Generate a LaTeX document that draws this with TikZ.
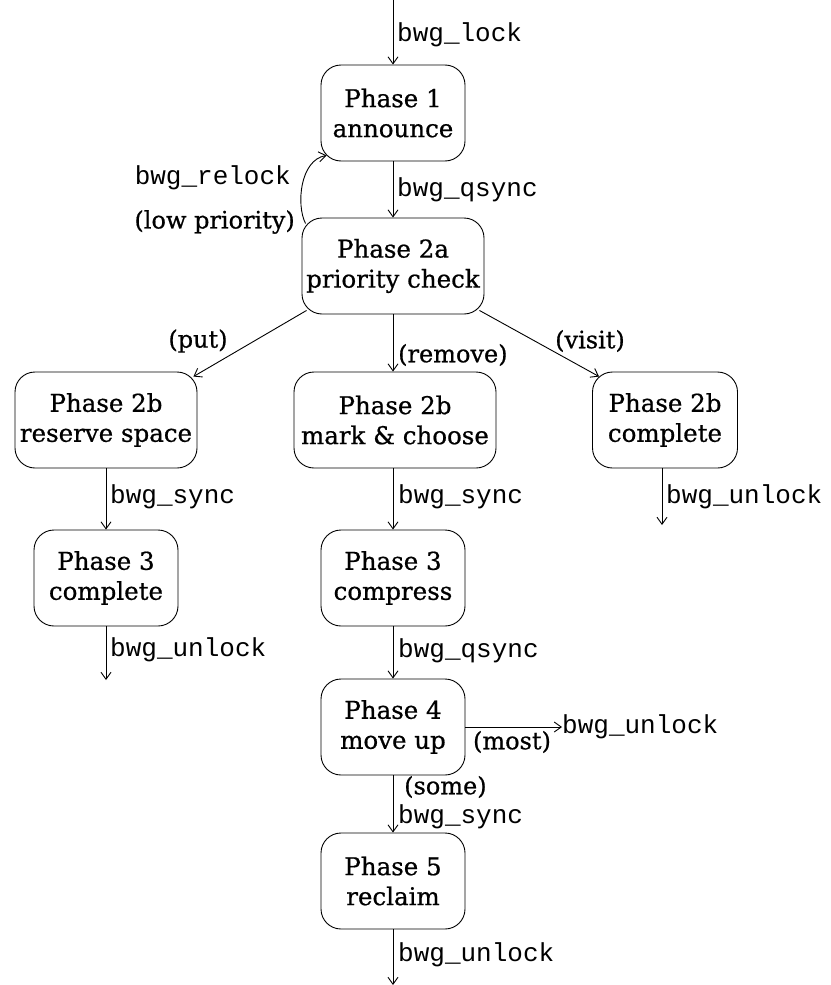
\documentclass[tikz,border=0pt]{standalone}
\usepackage{fontspec}
\setmainfont{DejaVu Serif}[FakeBold=0.7]
\setmonofont{Liberation Mono}
\usetikzlibrary{arrows.meta,calc}
\begin{document}
\begin{tikzpicture}[x=1pt,y=-1pt,
  phase/.style={draw,line width=0.9pt,rounded corners=20pt,align=center,
    minimum height=96pt,inner sep=0pt,font=\fontsize{24.5}{30}\selectfont},
  arr/.style={line width=0.9pt,-{Straight Barb[length=7pt,width=10pt]}},
  code/.style={font=\ttfamily\fontsize{26}{30}\selectfont,inner sep=0pt,anchor=west},
  cond/.style={font=\fontsize{24}{30}\selectfont,inner sep=0pt}]
\useasboundingbox (0,0) rectangle (830,985);

% phase boxes
\node[phase,minimum width=144pt] (p1)  at (393,113) {Phase 1\\announce};
\node[phase,minimum width=182pt] (p2a) at (393,266) {Phase 2a\\priority check};
\node[phase,minimum width=182pt] (put) at (106,420) {Phase 2b\\reserve space};
\node[phase,minimum width=202pt] (rem) at (395,420) {Phase 2b\\mark \& choose};
\node[phase,minimum width=145pt] (vis) at (665,420) {Phase 2b\\complete};
\node[phase,minimum width=144pt] (p3c) at (106,578) {Phase 3\\complete};
\node[phase,minimum width=144pt] (p3) at (393,578) {Phase 3\\compress};
\node[phase,minimum width=144pt] (p4) at (393,727) {Phase 4\\move up};
\node[phase,minimum width=144pt] (p5) at (393,881) {Phase 5\\reclaim};

% loose ends
\coordinate (start) at (393,0);
\coordinate (visend) at (662,525);
\coordinate (p3cend) at (106,680);
\coordinate (p5end) at (393,985);
\node[code] (most) at (562,727) {bwg\_unlock};

% entry
\draw[arr] (start) -- (p1.north);
\node[code] at (397,35) {bwg\_lock};

% phase 1 -> 2a and the relock loop
\draw[arr] (p1) -- (p2a);
\node[code] at (397,190) {bwg\_qsync};
\draw[arr] ($(p2a.north west)+(4pt,-6pt)$) .. controls (296,205) and (300,160) .. ($(p1.south west)+(6pt,6pt)$);
\node[code,anchor=east] at (291,178) {bwg\_relock};
\node[cond,anchor=east] at (295,222) {(low priority)};

% phase 2a branches
\draw[arr] ($(p2a.south west)+(5pt,4pt)$) -- ($(put.north east)+(-4pt,-5pt)$);
\node[cond] at (198,341) {(put)};
\draw[arr] (p2a.south) -- (p2a.south |- rem.north);
\node[cond,anchor=west] at (398,355) {(remove)};
\draw[arr] ($(p2a.south east)+(-5pt,4pt)$) -- ($(vis.north west)+(7pt,-5pt)$);
\node[cond] at (590,341) {(visit)};

% put path
\draw[arr] (put) -- (p3c);
\node[code] at (110,497) {bwg\_sync};
\draw[arr] (p3c.south) -- (p3cend);
\node[code] at (110,650) {bwg\_unlock};

% visit path
\draw[arr] (vis.south -| visend) -- (visend);
\node[code] at (666,497) {bwg\_unlock};

% remove path
\draw[arr] (rem.south -| p3.north) -- (p3.north);
\node[code] at (398,497) {bwg\_sync};
\draw[arr] (p3) -- (p4);
\node[code] at (398,651) {bwg\_qsync};
\draw[arr] (p4.east) -- (most.west);
\node[cond] at (512,742) {(most)};
\draw[arr] (p4) -- (p5);
\node[cond,anchor=west] at (404,787) {(some)};
\node[code] at (398,817) {bwg\_sync};
\draw[arr] (p5.south) -- (p5end);
\node[code] at (398,955) {bwg\_unlock};
\end{tikzpicture}
\end{document}
